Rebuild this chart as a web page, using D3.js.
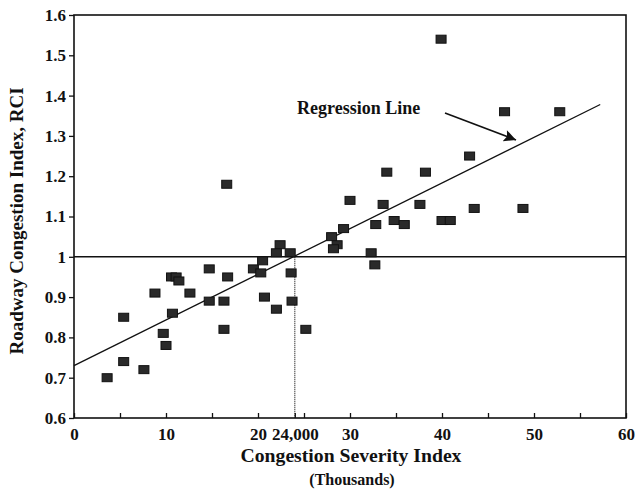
<!DOCTYPE html>
<html>
<head>
<meta charset="utf-8">
<script src="https://cdn.jsdelivr.net/npm/d3@7"></script>
<style>
  body { margin: 0; background: #fff; }
  svg { font-family: "Liberation Serif", "DejaVu Serif", serif; font-weight: bold; }
</style>
</head>
<body>
<svg id="chart" width="636" height="492"></svg>
<script>
// data (CSI in thousands, RCI)
const csi = [3.6, 5.4, 5.4, 7.6, 8.8, 9.7, 10.0, 10.7, 10.6, 11.1, 11.4, 12.6, 14.7, 14.7, 16.7, 16.3, 16.3, 16.6,
  19.5, 20.5, 20.3, 20.7, 22.0, 22.4, 22.0, 23.5, 23.6, 23.7, 25.2,
  28.0, 28.6, 28.2, 29.3, 30.0, 32.3, 32.7, 32.8, 33.6, 34.0, 34.8, 35.9, 37.6, 38.2, 39.9, 40.0, 40.9,
  43.0, 43.5, 46.8, 48.8, 52.8]
const rci = [0.70, 0.85, 0.74, 0.72, 0.91, 0.81, 0.78, 0.86, 0.95, 0.95, 0.94, 0.91, 0.97, 0.89, 0.95, 0.89, 0.82, 1.18,
  0.97, 0.99, 0.96, 0.90, 0.87, 1.03, 1.01, 1.01, 0.96, 0.89, 0.82,
  1.05, 1.03, 1.02, 1.07, 1.14, 1.01, 0.98, 1.08, 1.13, 1.21, 1.09, 1.08, 1.13, 1.21, 1.54, 1.09, 1.09,
  1.25, 1.12, 1.36, 1.12, 1.36]

const regX = [0, 57.2]
const regY = [0.73, 1.378]
const threshX = 24
const threshY = 1.0

const xTicks = [0, 10, 20, 24, 30, 40, 50, 60]
const xTickLabels = ["0", "10", "20", "24,000", "30", "40", "50", "60"]
const xMinorTicks = [5, 15, 25, 35, 45, 55]
const yTicks = [0.6, 0.7, 0.8, 0.9, 1, 1.1, 1.2, 1.3, 1.4, 1.5, 1.6]

const MARGIN = { left: 74, top: 15, right: 10, bottom: 74 }
const WIDTH = 636, HEIGHT = 492
const INK = "#111"

const svg = d3.select("#chart")

const x = d3.scaleLinear().domain([0, 60]).range([MARGIN.left, WIDTH - MARGIN.right])
const y = d3.scaleLinear().domain([0.6, 1.6]).range([HEIGHT - MARGIN.bottom, MARGIN.top])

// frame
svg.append("rect")
  .attr("x", x(0)).attr("y", y(1.6))
  .attr("width", x(60) - x(0)).attr("height", y(0.6) - y(1.6))
  .attr("fill", "none").attr("stroke", INK).attr("stroke-width", 1.6)

function styleAxis(g, size) {
  g.select(".domain").remove()
  g.selectAll("text").attr("font-size", size).attr("font-family", "Liberation Serif")
    .attr("font-weight", "bold").attr("fill", INK)
  g.selectAll("line").attr("stroke", INK).attr("stroke-width", 1.3)
}

// y axis
const yAxis = d3.axisLeft(y).tickValues(yTicks).tickSize(5).tickPadding(3)
  .tickFormat(d => d === 1 ? "1" : d3.format(".1f")(d))
svg.append("g").attr("transform", `translate(${x(0)},0)`).call(yAxis).call(g => styleAxis(g, 17))

// x axis (inward ticks)
const xAxis = d3.axisBottom(x).tickValues(xTicks).tickSize(-5).tickPadding(10)
  .tickFormat((d, i) => xTickLabels[i])
svg.append("g").attr("transform", `translate(0,${y(0.6)})`).call(xAxis).call(g => styleAxis(g, 17))

svg.append("g").attr("transform", `translate(0,${y(0.6)})`)
  .call(d3.axisBottom(x).tickValues(xMinorTicks).tickSize(-5).tickFormat(""))
  .call(g => styleAxis(g, 17))

// threshold lines
svg.append("line")
  .attr("x1", x(0)).attr("x2", x(60)).attr("y1", y(threshY)).attr("y2", y(threshY))
  .attr("stroke", INK).attr("stroke-width", 1.4)
svg.append("line")
  .attr("x1", x(threshX)).attr("x2", x(threshX)).attr("y1", y(threshY)).attr("y2", y(0.6))
  .attr("stroke", "#222").attr("stroke-width", 1.2).attr("stroke-dasharray", "1,1")

// regression line
svg.append("path")
  .datum(d3.zip(regX, regY))
  .attr("fill", "none").attr("stroke", INK).attr("stroke-width", 1.3)
  .attr("d", d3.line().x(d => x(d[0])).y(d => y(d[1])))

// points
svg.append("g").selectAll("rect")
  .data(d3.zip(csi, rci))
  .enter().append("rect")
  .attr("x", d => x(d[0]) - 5)
  .attr("y", d => y(d[1]) - 4)
  .attr("width", 10).attr("height", 8)
  .attr("fill", "#2a2a2a").attr("stroke", INK).attr("stroke-width", 1)

// annotation
svg.append("defs").append("marker")
  .attr("id", "arrow").attr("viewBox", "0 0 10 10")
  .attr("refX", 10).attr("refY", 5)
  .attr("markerWidth", 24).attr("markerHeight", 12).attr("orient", "auto")
  .attr("markerUnits", "userSpaceOnUse")
  .append("path").attr("d", "M0,0 L10,5 L0,10 L2,5 z").attr("fill", INK)

svg.append("text")
  .attr("x", 297).attr("y", 114)
  .attr("font-size", 18).attr("fill", INK)
  .text("Regression Line")

svg.append("line")
  .attr("x1", 445).attr("y1", 113).attr("x2", 516).attr("y2", 140)
  .attr("stroke", INK).attr("stroke-width", 1.6)
  .attr("marker-end", "url(#arrow)")

// axis titles
svg.append("text")
  .attr("x", 351).attr("y", 462)
  .attr("text-anchor", "middle").attr("font-size", 19.7).attr("fill", INK)
  .text("Congestion Severity Index")
svg.append("text")
  .attr("x", 352).attr("y", 485)
  .attr("text-anchor", "middle").attr("font-size", 16).attr("fill", INK)
  .text("(Thousands)")
svg.append("text")
  .attr("transform", `translate(23,221) rotate(-90)`)
  .attr("text-anchor", "middle").attr("font-size", 19).attr("fill", INK)
  .text("Roadway Congestion Index, RCI")
</script>
</body>
</html>
